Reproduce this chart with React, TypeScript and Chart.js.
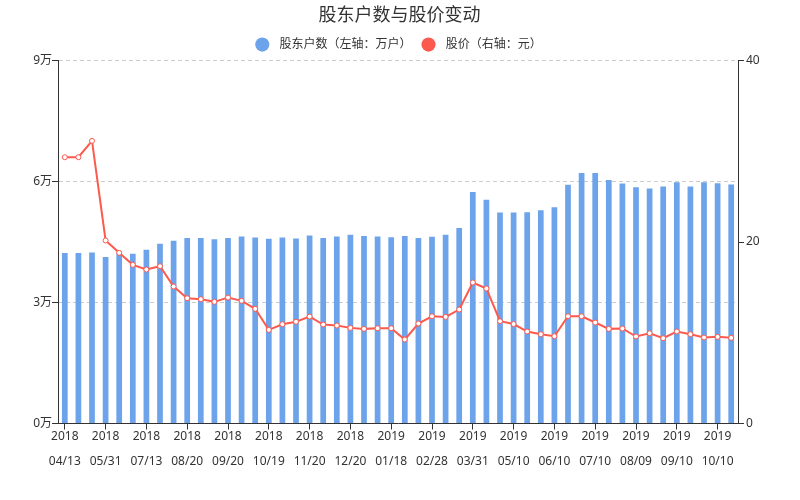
import React, { useEffect, useRef } from 'react';
import { Chart, registerables } from 'chart.js';

Chart.register(...registerables);

const titleText = '股东户数与股价变动';
const barLabel = '股东户数（左轴：万户）';
const lineLabel = '股价（右轴：元）';

// Tick labels shown every third report date
const tickYears = ['2018', '2018', '2018', '2018', '2018', '2018', '2018', '2018', '2019', '2019', '2019', '2019', '2019', '2019', '2019', '2019', '2019'];
const tickDates = ['04/13', '05/31', '07/13', '08/20', '09/20', '10/19', '11/20', '12/20', '01/18', '02/28', '03/31', '05/10', '06/10', '07/10', '08/09', '09/10', '10/10'];

// Shareholder households (万户)
const households = [
  4.23, 4.23, 4.24, 4.13, 4.22, 4.21, 4.31, 4.46, 4.53, 4.6,
  4.6, 4.57, 4.6, 4.64, 4.61, 4.58, 4.61, 4.59, 4.66, 4.6,
  4.64, 4.68, 4.65, 4.64, 4.62, 4.65, 4.6, 4.63, 4.68, 4.85,
  5.74, 5.55, 5.23, 5.23, 5.24, 5.29, 5.36, 5.92, 6.21, 6.21,
  6.04, 5.95, 5.86, 5.83, 5.88, 5.98, 5.88, 5.98, 5.96, 5.93,
];

// Share price (元)
const prices = [
  29.35, 29.35, 31.15, 20.17, 18.81, 17.49, 16.97, 17.34, 15.1, 13.81,
  13.7, 13.41, 13.88, 13.52, 12.64, 10.32, 10.94, 11.22, 11.79, 10.91,
  10.8, 10.54, 10.43, 10.5, 10.5, 9.26, 11.02, 11.82, 11.75, 12.56,
  15.54, 14.88, 11.28, 10.96, 10.14, 9.84, 9.62, 11.82, 11.82, 11.13,
  10.43, 10.47, 9.59, 9.95, 9.4, 10.14, 9.84, 9.48, 9.55, 9.44,
];

const leftTicks = [0, 3, 6, 9];
const rightTicks = [0, 20, 40];

const categories = households.map((_, i) =>
  i % 3 === 0 ? [tickYears[i / 3], '', tickDates[i / 3]] : ''
);

const BAR_COLOR = '#6ca3ea';
const LINE_COLOR = '#fc5a4e';
const AXIS_COLOR = '#333333';
const TEXT_COLOR = '#333333';
const FONT = "'Noto Sans', 'Noto Sans CJK SC', sans-serif";
const legendColors = [BAR_COLOR, LINE_COLOR];

export default function App() {
  const canvasRef = useRef<HTMLCanvasElement | null>(null);

  useEffect(() => {
    document.body.style.margin = '0';
    const canvas = canvasRef.current;
    if (!canvas) return;
    Chart.defaults.font.family = FONT;
    const chart = new Chart(canvas, {
      type: 'bar',
      data: {
        labels: categories,
        datasets: [
          {
            type: 'bar',
            label: barLabel,
            data: households,
            yAxisID: 'y',
            backgroundColor: BAR_COLOR,
            borderWidth: 0,
            barPercentage: 0.42,
            categoryPercentage: 1,
            order: 2,
          } as any,
          {
            type: 'line',
            label: lineLabel,
            data: prices,
            yAxisID: 'y1',
            borderColor: LINE_COLOR,
            backgroundColor: LINE_COLOR,
            borderWidth: 2,
            pointRadius: 2.5,
            pointBackgroundColor: '#ffffff',
            pointBorderColor: LINE_COLOR,
            pointBorderWidth: 1,
            tension: 0,
            order: 1,
          } as any,
        ],
      },
      options: {
        animation: false,
        responsive: true,
        maintainAspectRatio: false,
        layout: { padding: { left: 13, right: 14, top: 0, bottom: 31 } },
        plugins: {
          title: {
            display: true,
            text: titleText,
            color: TEXT_COLOR,
            font: { size: 18, weight: 'normal', family: FONT },
            padding: { top: 5, bottom: 0 },
          },
          legend: {
            display: true,
            labels: {
              usePointStyle: true,
              pointStyle: 'circle',
              boxWidth: 10,
              boxHeight: 10,
              padding: 12,
              color: TEXT_COLOR,
              font: { size: 12, family: FONT },
              sort: (a: any, b: any) => a.datasetIndex - b.datasetIndex,
              generateLabels: (chart: any) => {
                const items = Chart.defaults.plugins.legend.labels.generateLabels(chart);
                return items.map((it: any) => ({
                  ...it,
                  text: '  ' + it.text,
                  fillStyle: legendColors[it.datasetIndex],
                  lineWidth: 0,
                  strokeStyle: 'rgba(0,0,0,0)',
                  pointStyle: 'circle',
                }));
              },
            },
          },
          tooltip: { enabled: false },
        },
        scales: {
          x: {
            type: 'category',
            offset: true,
            grid: {
              offset: false,
              drawOnChartArea: false,
              drawTicks: true,
              tickLength: 6,
              color: (ctx: any) => (ctx.index % 3 === 0 ? AXIS_COLOR : 'rgba(0,0,0,0)'),
            },
            border: { color: AXIS_COLOR, width: 1 },
            ticks: {
              autoSkip: false,
              maxRotation: 0,
              minRotation: 0,
              padding: 1,
              color: TEXT_COLOR,
              font: { size: 12, lineHeight: '12.5px', family: FONT },
            },
          },
          y: {
            type: 'linear',
            position: 'left',
            min: leftTicks[0],
            max: leftTicks[leftTicks.length - 1],
            afterBuildTicks: (scale: any) => {
              scale.ticks = leftTicks.map((v) => ({ value: v }));
            },
            afterFit: (scale: any) => {
              scale.width = 45;
            },
            grid: {
              color: (ctx: any) => (ctx.tick && ctx.tick.value === 0 ? 'rgba(0,0,0,0)' : '#cccccc'),
              tickColor: AXIS_COLOR,
              tickLength: 6,
              drawTicks: true,
            },
            border: { color: AXIS_COLOR, width: 1, dash: [4, 3] },
            ticks: {
              padding: 0,
              color: TEXT_COLOR,
              font: { size: 12, family: FONT },
              callback: (v: any) => `${v}万`,
            },
          },
          y1: {
            type: 'linear',
            position: 'right',
            min: rightTicks[0],
            max: rightTicks[rightTicks.length - 1],
            afterBuildTicks: (scale: any) => {
              scale.ticks = rightTicks.map((v) => ({ value: v }));
            },
            afterFit: (scale: any) => {
              scale.width = 48;
            },
            grid: {
              drawOnChartArea: false,
              drawTicks: true,
              tickLength: 6,
              color: AXIS_COLOR,
            },
            border: { color: AXIS_COLOR, width: 1 },
            ticks: {
              padding: 2,
              color: TEXT_COLOR,
              font: { size: 12, family: FONT },
            },
          },
        },
      } as any,
    });
    return () => chart.destroy();
  }, []);

  return (
    <div style={{ position: 'relative', width: 800, height: 500 }}>
      <canvas ref={canvasRef} />
    </div>
  );
}
